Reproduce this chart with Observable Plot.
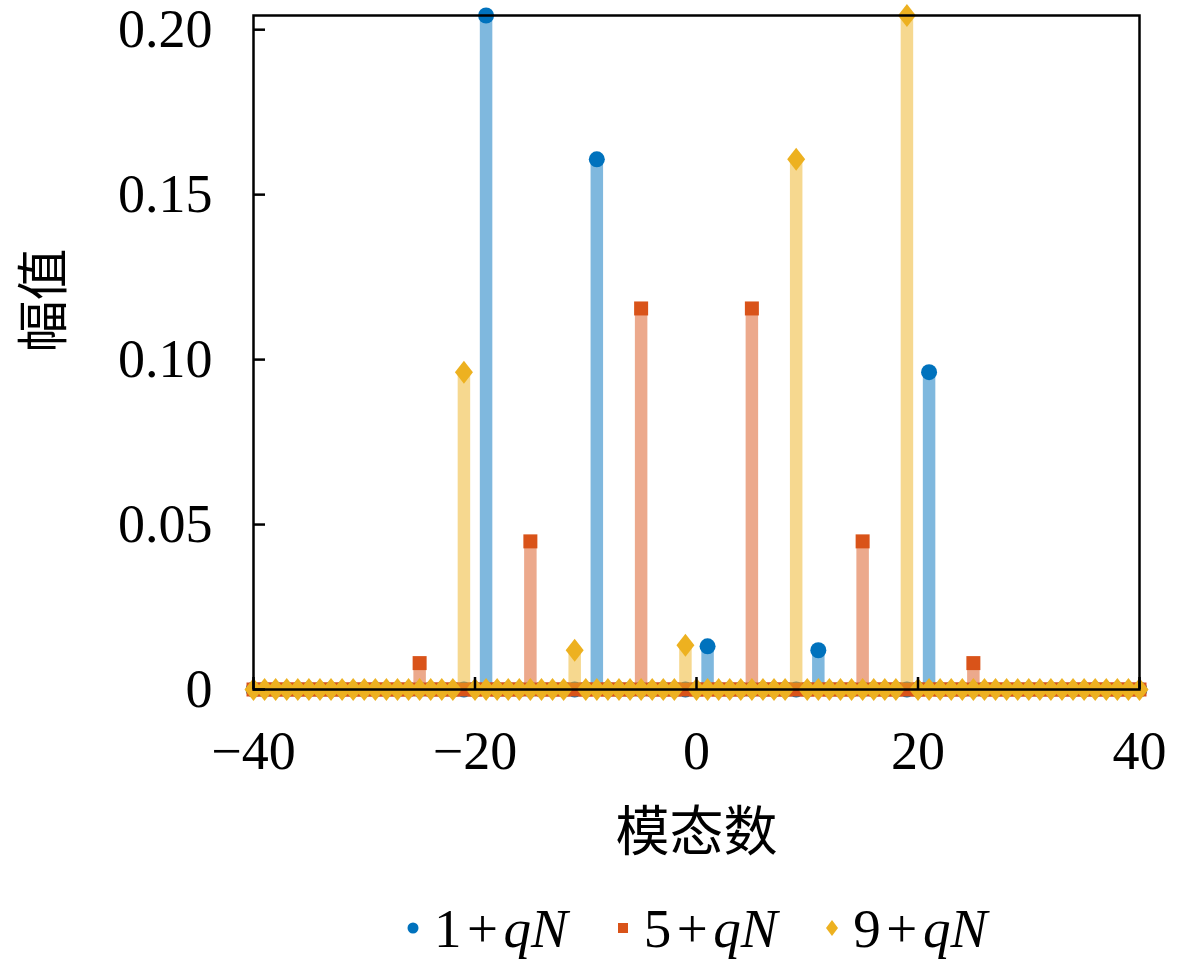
<!DOCTYPE html>
<html><head><meta charset="utf-8">
<script src="https://cdn.jsdelivr.net/npm/d3@7"></script>
<script src="https://cdn.jsdelivr.net/npm/@observablehq/plot@0.6"></script>
<style>
body{margin:0;background:#fff;}
#chart svg{display:block}
#legend{display:flex;justify-content:center;align-items:center;height:96px;font-family:'Liberation Serif',serif;font-size:55px;color:#000;padding-left:212px;box-sizing:border-box;width:1181px;}
.item{display:flex;align-items:center;margin:0 24px;}
.item svg{margin-right:14px;overflow:visible}
.op{margin:0 0.1em}
</style></head><body>
<div id="chart"></div>
<div id="legend"></div>
<script>
// Mode numbers shown on the x axis (every integer from -40 to 40)
const modes = d3.range(-40, 41);
const seriesNames = ["1", "5", "9"];
const seriesColors = ["#0072BD", "#D95319", "#EDB120"];
// Non-zero amplitudes of each family; every other mode has amplitude 0
const blueModes = [-19, -9, 1, 11, 21];
const blueValues = [0.2043, 0.1607, 0.0131, 0.0119, 0.0962];
const orangeModes = [-25, -15, -5, 5, 15, 25];
const orangeValues = [0.0080, 0.0449, 0.1155, 0.1155, 0.0449, 0.0080];
const yellowModes = [-21, -11, -1, 9, 19];
const yellowValues = [0.0962, 0.0119, 0.0134, 0.1607, 0.2043];
const xTicks = [-40, -20, 0, 20, 40];
const xTickLabels = ["\u221240", "\u221220", "0", "20", "40"];
const yTicks = [0, 0.05, 0.10, 0.15, 0.20];
const yTickLabels = ["0", "0.05", "0.10", "0.15", "0.20"];

const squareSym = {draw(ctx, size) {const r = Math.sqrt(size / Math.PI); ctx.moveTo(-r, -r); ctx.lineTo(r, -r); ctx.lineTo(r, r); ctx.lineTo(-r, r); ctx.closePath();}};
const diamondSym = {draw(ctx, size) {const r = Math.sqrt(size / Math.PI); const w = 0.9 * r, h = 1.15 * r; ctx.moveTo(0, -h); ctx.lineTo(w, 0); ctx.lineTo(0, h); ctx.lineTo(-w, 0); ctx.closePath();}};

function build(ms, vs) {
  const m = new Map(ms.map((d, i) => [d, vs[i]]));
  return modes.map(mode => ({mode, value: m.has(mode) ? m.get(mode) : 0}));
}
const series = [
  {data: build(blueModes, blueValues), color: seriesColors[0], symbol: "circle", r: 8},
  {data: build(orangeModes, orangeValues), color: seriesColors[1], symbol: squareSym, r: 7},
  {data: build(yellowModes, yellowValues), color: seriesColors[2], symbol: diamondSym, r: 10}
];

const cjk = "'Noto Sans CJK SC', sans-serif";
const marks = [];
series.forEach(s => {
  marks.push(Plot.ruleX(s.data, {x: "mode", y1: 0, y2: "value", stroke: s.color, strokeOpacity: 0.5, strokeWidth: 12.5}));
  marks.push(Plot.dot(s.data, {x: "mode", y: "value", r: s.r, symbol: s.symbol, fill: s.color, stroke: "none"}));
});
marks.push(
  Plot.frame({stroke: "black", strokeWidth: 2.5}),
  Plot.axisX({ticks: xTicks, tickSize: -12, strokeWidth: 2.5, fill: "none", label: null}),
  Plot.axisY({ticks: yTicks, tickSize: -12, strokeWidth: 2.5, fill: "none", label: null}),
  Plot.axisX({ticks: xTicks, tickSize: 0, tickPadding: 41, fontSize: 54, tickFormat: d => xTickLabels[xTicks.indexOf(d)], label: null}),
  Plot.axisY({ticks: yTicks, tickSize: 0, tickPadding: 41, fontSize: 54, tickFormat: d => yTickLabels[yTicks.indexOf(d)], label: null}),
  Plot.text(["模态数"], {text: d => d, frameAnchor: "bottom", dy: 144, fontSize: 54, fontFamily: cjk, lineAnchor: "middle", fill: "black"}),
  Plot.text(["幅值"], {text: d => d, frameAnchor: "left", dx: -208, rotate: -90, fontSize: 52, fontFamily: cjk, lineAnchor: "middle", fill: "black"})
);

const chart = Plot.plot({
  width: 1181, height: 880,
  marginLeft: 253, marginRight: 42, marginTop: 15, marginBottom: 191,
  x: {domain: [-40, 40]},
  y: {domain: [0, 0.2043]},
  style: {fontFamily: "'Liberation Serif', serif", fontSize: "54px", color: "black", background: "white", overflow: "visible"},
  marks
});
document.getElementById("chart").appendChild(chart);

// Legend
const legend = d3.select("#legend");
series.forEach((s, i) => {
  const item = legend.append("div").attr("class", "item");
  const svg = item.append("svg").attr("width", 14).attr("height", 18).attr("viewBox", "-7 -9 14 18");
  if (i === 0) svg.append("circle").attr("r", 5.5).attr("fill", s.color);
  if (i === 1) svg.append("rect").attr("x", -5).attr("y", -5).attr("width", 10).attr("height", 10).attr("fill", s.color);
  if (i === 2) svg.append("path").attr("d", "M0,-8L6,0L0,8L-6,0Z").attr("fill", s.color);
  const t = item.append("span");
  t.append("span").text(seriesNames[i]);
  t.append("span").attr("class", "op").text("+");
  t.append("i").text("q");
  t.append("i").text("N");
});
</script>
</body></html>
